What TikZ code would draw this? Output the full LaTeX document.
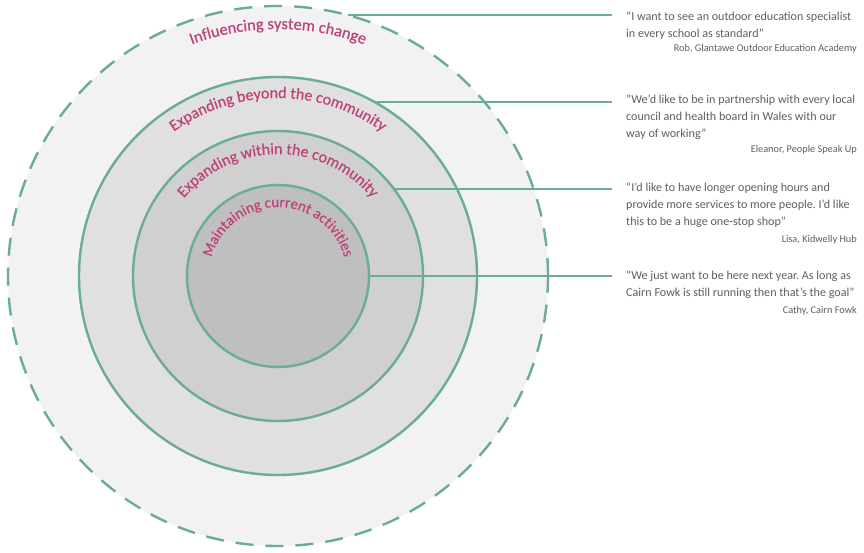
\documentclass[tikz,border=0pt]{standalone}
\usepackage{fontspec}
\setmainfont{Carlito}
\newfontfamily\lblfont[FakeBold=0.6]{Carlito}
\usetikzlibrary{decorations.text}
\definecolor{tealline}{HTML}{6AAC94}
\definecolor{lbl}{HTML}{C0427A}
\definecolor{qgray}{HTML}{5F5F5F}
\definecolor{fillA}{HTML}{F2F2F2}
\definecolor{fillB}{HTML}{E0E0E0}
\definecolor{fillC}{HTML}{D0D0D0}
\definecolor{fillD}{HTML}{BFBFBF}
\frenchspacing
\begin{document}
\begin{tikzpicture}[x=1pt,y=1pt,
  ring/.style={circle, draw=tealline, line width=2.4pt, inner sep=0pt, outer sep=0pt},
  conn/.style={draw=tealline, line width=2.4pt},
  quote/.style={anchor=north west, inner sep=0pt, align=left, text=qgray, font=\fontsize{12.1}{17}\selectfont},
  attr/.style={anchor=base east, inner sep=0pt, text=qgray, font=\fontsize{10.3}{12}\selectfont}
]
\useasboundingbox (0,0) rectangle (864,552);
\fill[white] (0,0) rectangle (864,552);
% circles
\node[ring, fill=fillA, minimum size=540pt, dash pattern=on 18pt off 12pt] (c1) at (278,276) {};
\node[ring, fill=fillB, minimum size=398pt] (c2) at (278,276) {};
\node[ring, fill=fillC, minimum size=290pt] (c3) at (278,276) {};
\node[ring, fill=fillD, minimum size=182pt] (c4) at (278,276) {};
% quotes
\node[quote] (q1) at (626,540) {“I want to see an outdoor education specialist\\in every school as standard"};
\node[attr] (a1) at (857,500) {Rob, Glantawe Outdoor Education Academy};
\node[quote] (q2) at (626,457) {"We’d like to be in partnership with every local\\council and health board in Wales with our\\way of working”};
\node[attr] (a2) at (857,399) {Eleanor, People Speak Up};
\node[quote] (q3) at (626,369) {“I’d like to have longer opening hours and\\provide more services to more people. I’d like\\this to be a huge one-stop shop”};
\node[attr] (a3) at (857,309) {Lisa, Kidwelly Hub};
\node[quote] (q4) at (626,281) {“We just want to be here next year. As long as\\Cairn Fowk is still running then that’s the goal”};
\node[attr] (a4) at (857,239) {Cathy, Cairn Fowk};
% connector ends
\coordinate (e1) at (612,0);
\draw[conn] (c1.75.2) -- (c1.75.2 -| e1);
\draw[conn] (c2.61.6) -- (c2.61.6 -| e1);
\draw[conn] (c3.37.4) -- (c3.37.4 -| e1);
\draw[conn] (c4.east) -- (c4.east -| e1);
% curved labels
\path[decorate, decoration={text along path, text align=center,
  text={|\lblfont\fontsize{16.4}{18}\selectfont\color{lbl}|Influencing system change}}]
  (278,276) ++(180:247) arc[start angle=180, end angle=0, radius=247];
\path[decorate, decoration={text along path, text align=center,
  text={|\lblfont\fontsize{16}{18}\selectfont\color{lbl}|Expanding beyond the community}}]
  (278,276) ++(180:178) arc[start angle=180, end angle=0, radius=178];
\path[decorate, decoration={text along path, text align=center,
  text={|\lblfont\fontsize{16}{18}\selectfont\color{lbl}|Expanding within the community}}]
  (278,276) ++(180:122) arc[start angle=180, end angle=0, radius=122];
\path[decorate, decoration={text along path, text align=center,
  text={|\lblfont\fontsize{15}{17}\selectfont\color{lbl}|Maintaining current activities}}]
  (278,276) ++(180:69) arc[start angle=180, end angle=0, radius=69];
\end{tikzpicture}
\end{document}
